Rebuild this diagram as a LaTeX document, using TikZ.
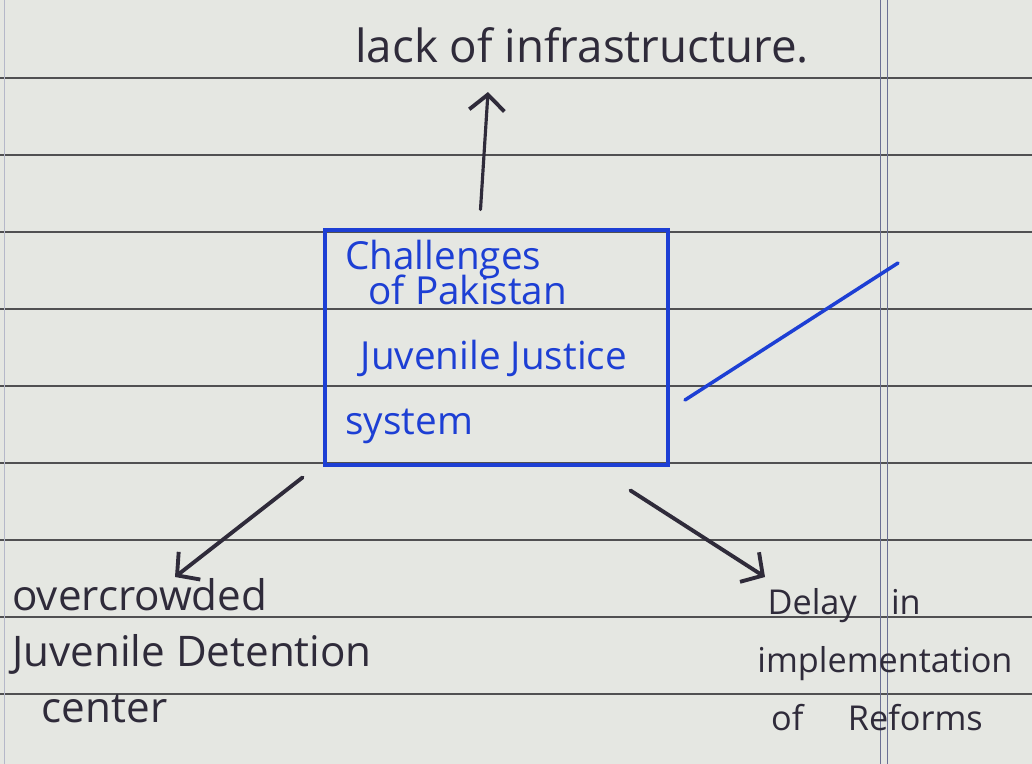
\documentclass[tikz,border=0pt]{standalone}
\usepackage{fontspec}
\setmainfont{Open Sans}
\usetikzlibrary{arrows.meta,calc}
\definecolor{paper}{HTML}{E5E7E2}
\definecolor{ink}{HTML}{2F2B3A}
\definecolor{blueink}{HTML}{1D3FD4}
\definecolor{rule}{HTML}{505052}
\definecolor{margin}{HTML}{6B7094}
\tikzset{
  pen/.style={ink,line width=2.2pt,line cap=round,
    -{Straight Barb[length=9pt,width=20pt,line width=2.2pt]}},
  ruled/.style={rule,line width=0.6pt},
  note/.style={ink,align=left,inner sep=0pt},
}
\begin{document}
\begin{tikzpicture}[x=0.02cm,y=-0.02cm]
  \useasboundingbox (0,0) rectangle (1032,764);
  \fill[paper] (0,0) rectangle (1032,764);
  %ruled paper
  \foreach \k in {0,...,8}
    \draw[ruled] (0,{78+77*\k}) -- (1032,{78+77*\k});
  \draw[margin,line width=0.5pt] (880,0) -- (880,764) (887,0) -- (887,764);
  \draw[margin!50,line width=0.4pt] (4,0) -- (4,764);
  %middle
  \node[draw=blueink,line width=2.8pt,minimum width=6.86cm,
    minimum height=4.7cm] (box) at (496.5,347.5) {};
  \node[note,text=blueink,anchor=north west,font=\fontsize{22}{26}\selectfont]
    (title) at (345,240)
    {Challenges\\[-6pt]\hspace{0.6em}of Pakistan\\[11pt]\hspace{0.4em}Juvenile Justice\\[11pt]system};
  %around
  \node[note,anchor=west,font=\fontsize{26}{30}\selectfont] (infra) at (355,45)
    {lack of infrastructure.};
  \node[note,anchor=north west,font=\fontsize{24}{32}\selectfont] (over) at (12,578)
    {overcrowded\\Juvenile Detention\\\hspace{0.7em}center};
  \node[note,anchor=north west,font=\fontsize{19.5}{33}\selectfont] (delay) at (757,588)
    {\hspace{0.3em}Delay\quad in\\implementation\\\hspace{0.4em}of\hspace{1.3em}Reforms};
  %arrows
  \draw[pen,line width=1.8pt] ($(box.north)+(-16,-18)$) -- ($(infra.west)+(133,47)$);
  \draw[pen] ($(box.south west)+(-20,10)$) -- ($(over.north west)+(163,-1)$);
  \draw[pen] ($(box.south east)+(-40,23)$) -- ($(delay.north west)+(8,-11)$);
  \draw[blueink,line width=2pt,line cap=round] (685,400) -- (898,263);
\end{tikzpicture}
\end{document}
